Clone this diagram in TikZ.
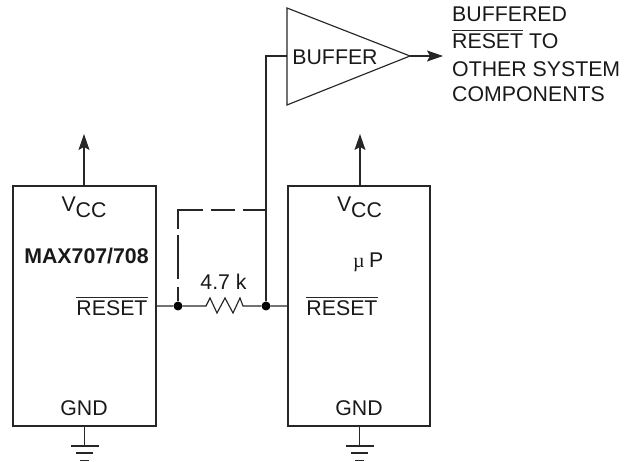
\documentclass[tikz,border=0pt]{standalone}
\usepackage{fontspec}
\setmainfont{Liberation Sans}
\newfontfamily\symf{Liberation Serif}
\usetikzlibrary{arrows.meta,shapes.geometric}
\tikzset{
  wire/.style={draw=black!85,line width=1.15pt},
  lbl/.style={inner sep=0pt,text=black!90,font=\fontsize{21.3}{24}\selectfont},
  chip/.style={wire,rectangle,minimum width=#1,minimum height=240pt,inner sep=0pt},
  dotn/.style={circle,fill=black,inner sep=0pt,minimum size=9pt},
  up/.style={wire,-{Stealth[length=16pt,width=11pt,inset=3pt]}},
  bar/.style={draw=black!85,line width=1.15pt}
}
\begin{document}
\begin{tikzpicture}[x=1pt,y=-1pt]
\useasboundingbox (0,0) rectangle (630,462);
% boxes
\node[chip=143pt] (max) at (84.5,306) {};
\node[chip=142pt] (up) at (359,306) {};
% buffer
\coordinate (ba) at (287,8);
\coordinate (bb) at (287,105);
\coordinate (bc) at (410,56);
\coordinate (bin) at (287,56);
\draw[wire,line join=miter] (ba) -- (bc) -- (bb) -- cycle;
\coordinate (out) at (443,56);
\draw[up] (bc) -- (out);
% junctions
\node[dotn] (j1) at (178,306) {};
\node[dotn] (j2) at (266,306) {};
\coordinate (maxr) at (156,306);
\coordinate (upl) at (288,306);
\coordinate (r1) at (206,306);
\coordinate (r2) at (243,306);
\draw[wire] (maxr) -- (j1) -- (r1) -- (210,298) -- (217,313) -- (225,298) -- (233,313) -- (240,298) -- (r2) -- (j2) -- (upl);
\draw[wire] (j2) -- (266,56) -- (bin);
\coordinate (dc) at (178,210);
\coordinate (dr) at (266,210);
\draw[wire] (dr) -- (243,210) (235,210) -- (211,210) (203,210) -- (dc) -- (178,229) (178,235) -- (178,279) (178,287) -- (j1);
% vcc arrows
\coordinate (a1t) at (84,134);
\coordinate (a2t) at (360,134);
\draw[up] (84,186) -- (a1t);
\draw[up] (360,186) -- (a2t);
% grounds
\foreach \n/\x in {g1/84.5,g2/359.5}{
  \coordinate (\n) at (\x,426);
  \draw[wire] (\n) -- (\x,446);
  \draw[bar] (\x-14,446) -- (\x+14,446);
  \draw[bar] (\x-8.5,453) -- (\x+8.5,453);
  \draw[bar] (\x-4.5,460.5) -- (\x+4.5,460.5);
}
% text
\node[lbl,anchor=base] (v1) at (84,212) {V\raisebox{-6pt}{CC}};
\node[lbl,anchor=base] (v2) at (359.5,212) {V\raisebox{-6pt}{CC}};
\node[lbl,font=\fontsize{21.3}{24}\selectfont\bfseries] (name) at (86.5,256) {MAX707/708};
\node[lbl,anchor=base west] (up2) at (353,268) {\makebox[16pt][l]{\symf\fontsize{20}{20}\selectfont µ}P};
\node[lbl] (rst1) at (112,308) {RESET};
\node[lbl] (rst2) at (342,308) {RESET};
\node[lbl] (g1t) at (84,408) {GND};
\node[lbl] (g2t) at (359,408) {GND};
\node[lbl] (res) at (223.5,282) {4.7 k};
\node[lbl] (buf) at (335,57) {BUFFER};
\node[lbl,anchor=base west] (t1) at (452,22) {BUFFERED};
\node[lbl,anchor=base west] (t2) at (452,49) {RESET TO};
\node[lbl,anchor=base west] (t3) at (452,77) {OTHER SYSTEM};
\node[lbl,anchor=base west] (t4) at (452,102) {COMPONENTS};
\node[lbl,anchor=base west] (t2r) at (452,49) {\phantom{RESET}};
\foreach \n in {rst1,rst2,t2r}{
  \draw[bar] ([yshift=3pt]\n.north west) -- ([yshift=3pt]\n.north east);
}
\end{tikzpicture}
\end{document}
